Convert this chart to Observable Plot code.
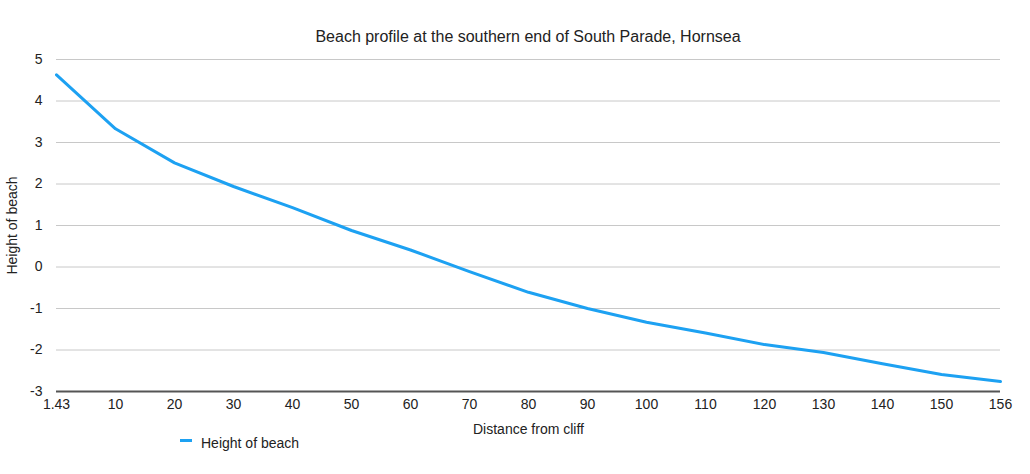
<!DOCTYPE html>
<html><head><meta charset="utf-8">
<script src="https://cdn.jsdelivr.net/npm/d3@7"></script>
<script src="https://cdn.jsdelivr.net/npm/@observablehq/plot@0.6"></script>
<style>
body{margin:0;background:#fff;font-family:"Liberation Sans",Arial,sans-serif;}
#wrap{position:relative;width:1030px;height:474px;}
#title{position:absolute;top:27px;left:56px;width:944px;text-align:center;font-size:16px;color:#222;line-height:19px;}
#legend{position:absolute;top:435px;left:180px;font-size:14px;color:#222;display:flex;align-items:center;}
#legend .sw{display:inline-block;width:12px;height:3px;background:#1DA1F2;margin-right:9px;position:relative;top:-3px;}
</style>
</head><body>
<div id="wrap">
<div id="chart"></div>
<div id="title">Beach profile at the southern end of South Parade, Hornsea</div>
<div id="legend"><span class="sw"></span><span>Height of beach</span></div>
</div>
<script>
const distances = ["1.43","10","20","30","40","50","60","70","80","90","100","110","120","130","140","150","156"];
const heights = [4.63,3.33,2.51,1.94,1.43,0.88,0.41,-0.11,-0.61,-1.0,-1.33,-1.59,-1.87,-2.06,-2.33,-2.59,-2.76];
const yTicks = [-3,-2,-1,0,1,2,3,4,5];
const seriesName = "Height of beach";

const data = distances.map((d,i)=>({d, h: heights[i]}));

const chart = Plot.plot({
  width: 1030,
  height: 474,
  marginTop: 59,
  marginBottom: 83,
  marginLeft: 56,
  marginRight: 30,
  style: {fontFamily: '"Liberation Sans", Arial, sans-serif', fontSize: "14px", color: "#222", background: "#fff"},
  x: {type: "point", domain: distances, padding: 0},
  y: {domain: [-3,5]},
  marks: [
    Plot.ruleY(yTicks.filter(t=>t>-3), {stroke: "#c8c8c8", strokeWidth: 1}),
    Plot.axisX({tickSize: 0, tickPadding: 8, label: "Distance from cliff", labelAnchor: "center", labelArrow: "none", labelOffset: 42}),
    Plot.axisY({ticks: yTicks, tickFormat: d => String(d), tickSize: 0, tickPadding: 14, label: seriesName, labelAnchor: "center", labelArrow: "none", labelOffset: 49}),
    Plot.line(data, {x: "d", y: "h", stroke: "#1DA1F2", strokeWidth: 3, strokeLinejoin: "round"}),
    Plot.ruleY([-3], {stroke: "#555", strokeWidth: 2})
  ]
});
document.getElementById("chart").appendChild(chart);
</script>
</body></html>
